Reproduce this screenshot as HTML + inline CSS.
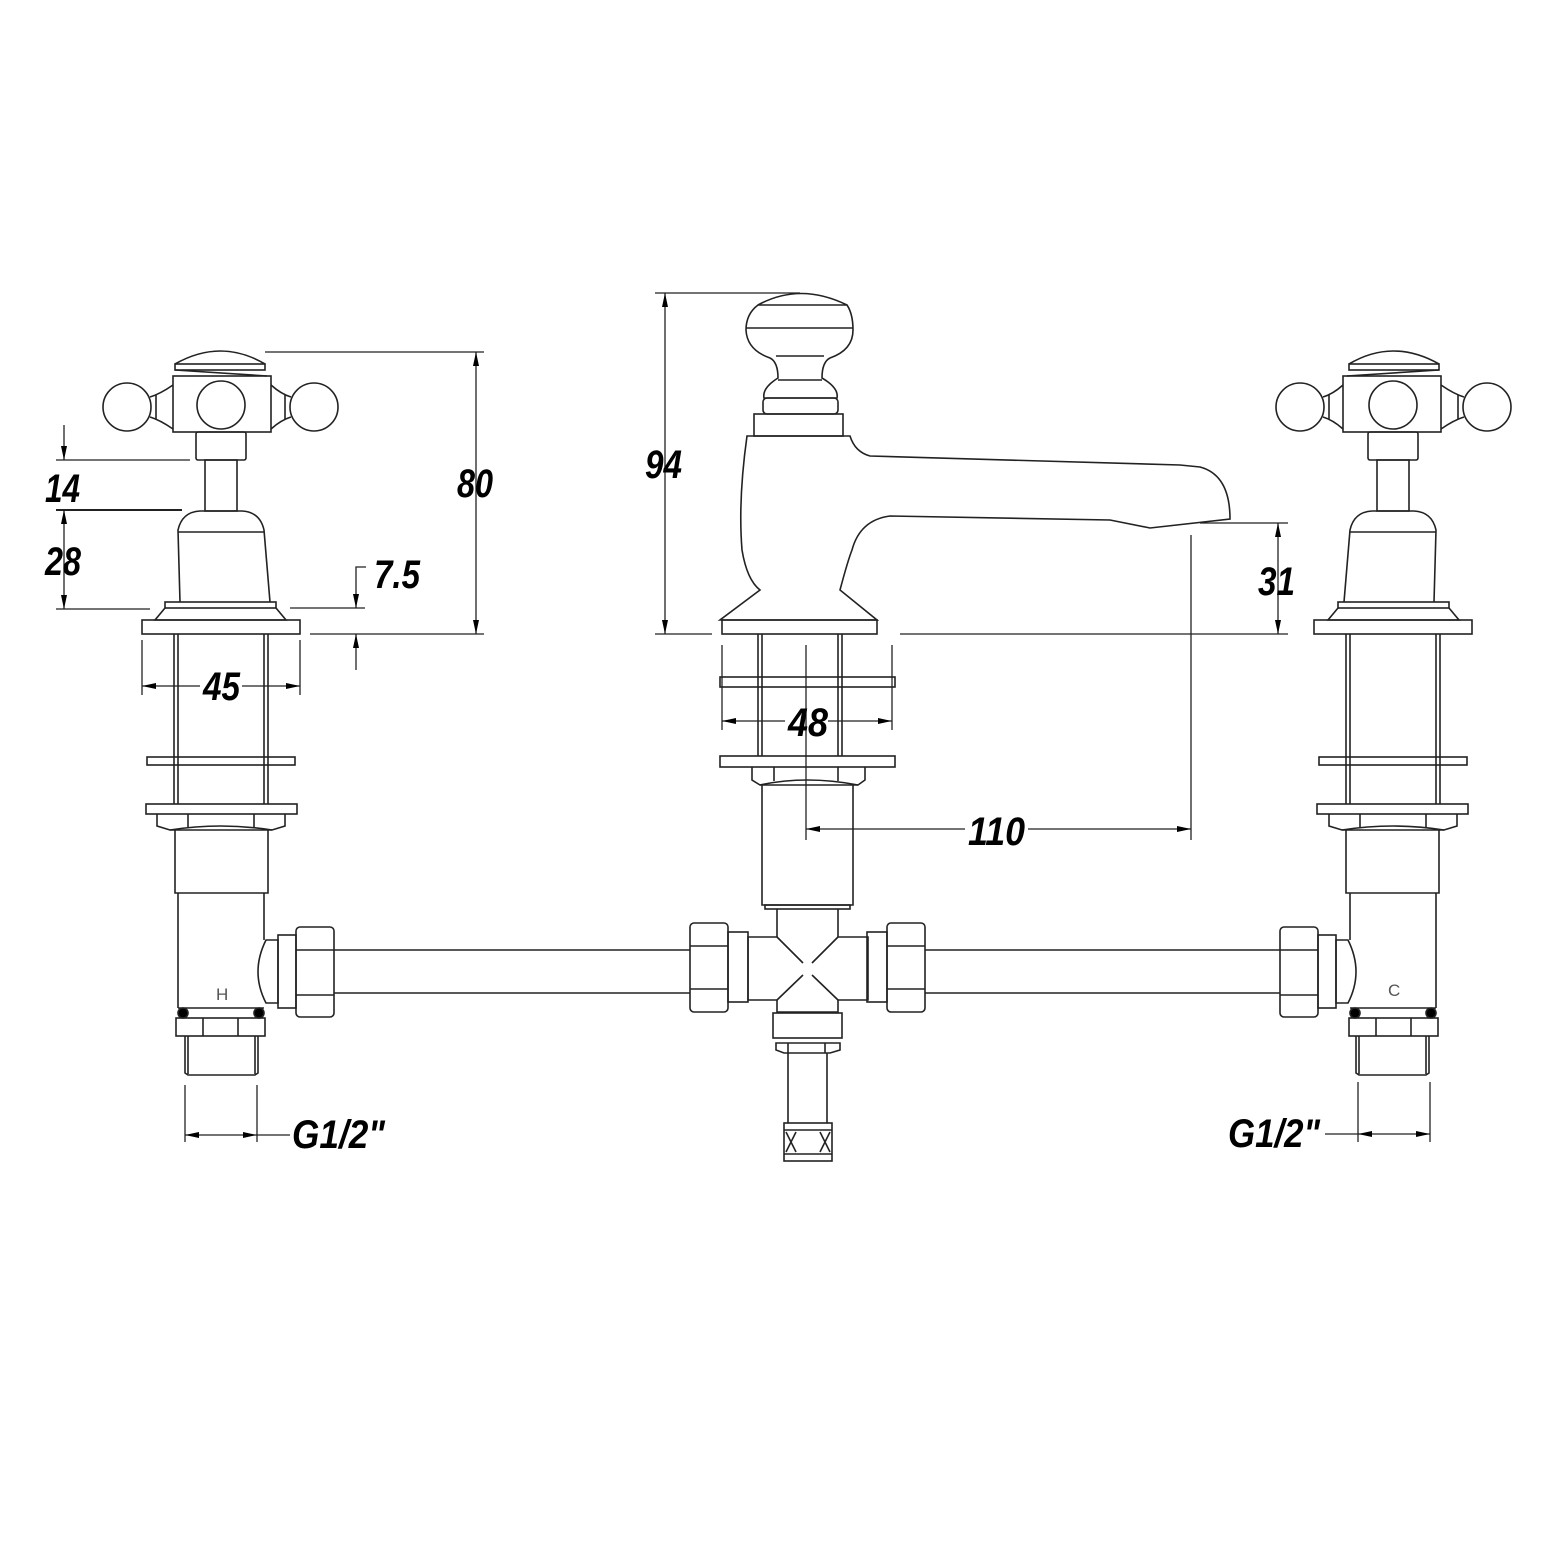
<!DOCTYPE html>
<html><head><meta charset="utf-8"><style>
html,body{margin:0;padding:0;background:#fff;}
svg{display:block;}
text{font-family:"Liberation Sans",sans-serif;font-weight:bold;font-style:italic;fill:#000;}
</style></head><body>
<svg width="1553" height="1552" viewBox="0 0 1553 1552" xmlns="http://www.w3.org/2000/svg">
<defs>
<marker id="a" viewBox="0 0 14 6" refX="14" refY="3" markerWidth="14" markerHeight="6" markerUnits="userSpaceOnUse" orient="auto-start-reverse"><path d="M0,0 L14,3 L0,6 z" fill="#000"/></marker>
<g id="valve" fill="none" stroke="#222" stroke-width="1.6">
  <path d="M175,364 Q221,338 265,364"/>
  <rect x="175" y="364" width="90" height="6"/>
  <rect x="173" y="376" width="98" height="56"/>
  <line x1="175" y1="370" x2="267" y2="376"/>
  <circle cx="221" cy="405" r="24"/>
  <circle cx="127" cy="407" r="24"/>
  <circle cx="314" cy="407" r="24"/>
  <path d="M150,397 Q160,394 173,385 M150,417 Q160,420 173,429"/>
  <path d="M291,397 Q281,394 271,385 M291,417 Q281,420 271,429"/>
  <line x1="156" y1="395" x2="156" y2="419"/><line x1="285" y1="395" x2="285" y2="419"/>
  <rect x="196" y="432" width="50" height="28" rx="2"/>
  <rect x="205" y="460" width="32" height="51"/>
  <path d="M180,602 L178,530 Q182,512 200,511 L242,511 Q260,512 264,530 L270,602"/>
  <line x1="178" y1="532" x2="264" y2="532"/>
  <rect x="165" y="602" width="111" height="6"/>
  <path d="M165,608 L155,620 L286,620 L276,608"/>
  <rect x="142" y="620" width="158" height="14"/>
  <line x1="174" y1="634" x2="174" y2="804"/><line x1="178" y1="634" x2="178" y2="804"/>
  <line x1="264" y1="634" x2="264" y2="804"/><line x1="268" y1="634" x2="268" y2="804"/>
  <rect x="147" y="757" width="148" height="8"/>
  <rect x="146" y="804" width="151" height="10"/>
  <path d="M157,814 L157,826 L170,830 L272,830 L285,826 L285,814"/>
  <line x1="188" y1="814" x2="188" y2="828"/><line x1="254" y1="814" x2="254" y2="828"/>
  <path d="M170,830 Q221,822 272,830"/>
  <path d="M175,830 L175,893 L268,893 L268,830"/>
  <path d="M178,893 L178,1008 M264,893 L264,940"/>
  <path d="M278,940 L266,940 Q250,972 266,1003 L278,1003 Z"/>
  <rect x="278" y="935" width="18" height="73"/>
  <rect x="296" y="927" width="38" height="90" rx="4"/>
  <line x1="296" y1="950" x2="334" y2="950"/><line x1="296" y1="995" x2="334" y2="995"/>
  <line x1="178" y1="1008" x2="264" y2="1008"/>
  <circle cx="183" cy="1013" r="5" fill="#000"/><circle cx="259" cy="1013" r="5" fill="#000"/>
  <rect x="176" y="1018" width="89" height="18"/>
  <line x1="203" y1="1018" x2="203" y2="1036"/><line x1="238" y1="1018" x2="238" y2="1036"/>
  <path d="M185,1036 L185,1073 L188,1075 L255,1075 L258,1073 L258,1036"/>
  <line x1="188" y1="1036" x2="188" y2="1074"/><line x1="255" y1="1036" x2="255" y2="1074"/>
</g>
</defs>
<use href="#valve"/>
<use href="#valve" transform="translate(1614,0) scale(-1,1)"/>
<g fill="none" stroke="#222" stroke-width="1.6">
  <line x1="334" y1="950" x2="690" y2="950"/><line x1="334" y1="993" x2="690" y2="993"/>
  <line x1="925" y1="950" x2="1280" y2="950"/><line x1="925" y1="993" x2="1280" y2="993"/>
  <!-- center knob -->
  <path d="M758,305 Q800,282 847,305"/>
  <path d="M758,305 Q746,314 746,330 Q747,350 770,358 Q778,362 778,378 Q762,388 764,398 L837,398 Q839,388 822,378 Q822,362 830,358 Q853,350 853,330 Q853,314 847,305 Z"/>
  <line x1="746" y1="328" x2="853" y2="328"/><line x1="776" y1="356" x2="824" y2="356"/>
  <line x1="778" y1="380" x2="822" y2="380"/>
  <rect x="763" y="398" width="75" height="16" rx="4"/>
  <rect x="754" y="414" width="89" height="22"/>
  <!-- spout body -->
  <path d="M747,436 Q738,500 742,550 Q747,580 760,590 L720,620 L877,620 L840,590 Q848,560 852,550 Q860,520 890,516 L1110,520 L1120,522 L1150,528 L1230,519 Q1230,475 1200,467 L1180,465 L870,456 Q855,452 850,436 Z"/>
  <rect x="722" y="620" width="155" height="14"/>
  <line x1="758" y1="634" x2="758" y2="756"/><line x1="762" y1="634" x2="762" y2="756"/>
  <line x1="838" y1="634" x2="838" y2="756"/><line x1="842" y1="634" x2="842" y2="756"/>
  <rect x="720" y="677" width="175" height="10"/>
  <rect x="720" y="756" width="175" height="11"/>
  <path d="M752,767 L752,780 L760,785 L858,785 L865,780 L865,767"/>
  <line x1="774" y1="767" x2="774" y2="781"/><line x1="838" y1="767" x2="838" y2="781"/>
  <path d="M760,785 Q806,775 858,785"/>
  <path d="M762,785 L762,905 L853,905 L853,785"/>
  <rect x="765" y="905" width="85" height="4"/>
  <path d="M777,909 L777,937 L748,937 L748,1000 L777,1000 L777,1012 L838,1012 L838,1000 L868,1000 L868,937 L838,937 L838,909"/>
  <path d="M777,937 L803,963 M838,937 L812,963 M777,1000 L803,975 M838,1000 L812,975"/>
  <rect x="728" y="932" width="20" height="70"/>
  <rect x="690" y="923" width="38" height="89" rx="4"/>
  <line x1="690" y1="946" x2="728" y2="946"/><line x1="690" y1="989" x2="728" y2="989"/>
  <rect x="867" y="932" width="20" height="70"/>
  <rect x="887" y="923" width="38" height="89" rx="4"/>
  <line x1="887" y1="946" x2="925" y2="946"/><line x1="887" y1="989" x2="925" y2="989"/>
  <rect x="773" y="1013" width="69" height="25"/>
  <path d="M776,1043 L776,1050 L784,1053 L830,1053 L840,1050 L840,1043 Z"/>
  <line x1="788" y1="1043" x2="788" y2="1053"/><line x1="825" y1="1043" x2="825" y2="1053"/>
  <line x1="788" y1="1053" x2="788" y2="1123"/><line x1="827" y1="1053" x2="827" y2="1123"/>
  <rect x="784" y="1123" width="48" height="38"/>
  <line x1="784" y1="1130" x2="832" y2="1130"/><line x1="784" y1="1154" x2="832" y2="1154"/>
  <path d="M786,1132 L796,1152 M796,1132 L786,1152 M820,1132 L830,1152 M830,1132 L820,1152"/>
</g>
<g fill="none" stroke="#222" stroke-width="1.3">
  <line x1="265" y1="352" x2="484" y2="352"/>
  <line x1="310" y1="634" x2="484" y2="634"/>
  <line x1="476" y1="352" x2="476" y2="634" marker-start="url(#a)" marker-end="url(#a)"/>
  <line x1="56" y1="460" x2="190" y2="460"/>
  <line x1="56" y1="510" x2="182" y2="510" stroke-width="2"/>
  <line x1="56" y1="609" x2="150" y2="609"/>
  <line x1="64" y1="425" x2="64" y2="460" marker-end="url(#a)"/>
  <line x1="64" y1="510" x2="64" y2="609" marker-start="url(#a)" marker-end="url(#a)"/>
  <line x1="290" y1="608" x2="365" y2="608"/>
  <path d="M366,567 L356,567 L356,608" marker-end="url(#a)"/>
  <line x1="356" y1="670" x2="356" y2="634" marker-end="url(#a)"/>
  <line x1="142" y1="640" x2="142" y2="695"/><line x1="300" y1="640" x2="300" y2="695"/>
  <line x1="142" y1="686" x2="200" y2="686" marker-start="url(#a)"/>
  <line x1="242" y1="686" x2="300" y2="686" marker-end="url(#a)"/>
  <line x1="185" y1="1085" x2="185" y2="1142"/><line x1="257" y1="1085" x2="257" y2="1142"/>
  <line x1="185" y1="1135" x2="257" y2="1135" marker-start="url(#a)" marker-end="url(#a)"/>
  <line x1="257" y1="1135" x2="290" y2="1135"/>
  <line x1="1358" y1="1082" x2="1358" y2="1142"/><line x1="1430" y1="1082" x2="1430" y2="1142"/>
  <line x1="1358" y1="1134" x2="1430" y2="1134" marker-start="url(#a)" marker-end="url(#a)"/>
  <line x1="1325" y1="1134" x2="1358" y2="1134"/>
  <line x1="655" y1="293" x2="800" y2="293"/>
  <line x1="655" y1="634" x2="712" y2="634"/>
  <line x1="665" y1="293" x2="665" y2="634" marker-start="url(#a)" marker-end="url(#a)"/>
  <line x1="1200" y1="523" x2="1288" y2="523"/>
  <line x1="900" y1="634" x2="1288" y2="634"/>
  <line x1="1278" y1="523" x2="1278" y2="634" marker-start="url(#a)" marker-end="url(#a)"/>
  <line x1="722" y1="645" x2="722" y2="730"/><line x1="892" y1="645" x2="892" y2="730"/>
  <line x1="806" y1="645" x2="806" y2="840"/>
  <line x1="722" y1="721" x2="785" y2="721" marker-start="url(#a)"/>
  <line x1="828" y1="721" x2="892" y2="721" marker-end="url(#a)"/>
  <line x1="1191" y1="535" x2="1191" y2="840"/>
  <line x1="806" y1="829" x2="965" y2="829" marker-start="url(#a)"/>
  <line x1="1028" y1="829" x2="1191" y2="829" marker-end="url(#a)"/>
</g>
<g font-size="40">
  <text x="457" y="497" textLength="36" lengthAdjust="spacingAndGlyphs">80</text>
  <text x="645" y="478" textLength="37" lengthAdjust="spacingAndGlyphs">94</text>
  <text x="45" y="502" textLength="35" lengthAdjust="spacingAndGlyphs">14</text>
  <text x="45" y="575" textLength="36" lengthAdjust="spacingAndGlyphs">28</text>
  <text x="374" y="588" textLength="46" lengthAdjust="spacingAndGlyphs">7.5</text>
  <text x="203" y="700" textLength="37" lengthAdjust="spacingAndGlyphs">45</text>
  <text x="788" y="736" textLength="40" lengthAdjust="spacingAndGlyphs">48</text>
  <text x="968" y="845" textLength="57" lengthAdjust="spacingAndGlyphs">110</text>
  <text x="1258" y="595" textLength="37" lengthAdjust="spacingAndGlyphs">31</text>
  <text x="292" y="1148" textLength="93" lengthAdjust="spacingAndGlyphs">G1/2"</text>
  <text x="1228" y="1147" textLength="92" lengthAdjust="spacingAndGlyphs">G1/2"</text>
</g>
<g font-size="17">
  <text x="216" y="1000" style="font-style:normal;font-weight:normal;fill:#555">H</text>
  <text x="1388" y="996" style="font-style:normal;font-weight:normal;fill:#555">C</text>
</g>
</svg>
</body></html>
